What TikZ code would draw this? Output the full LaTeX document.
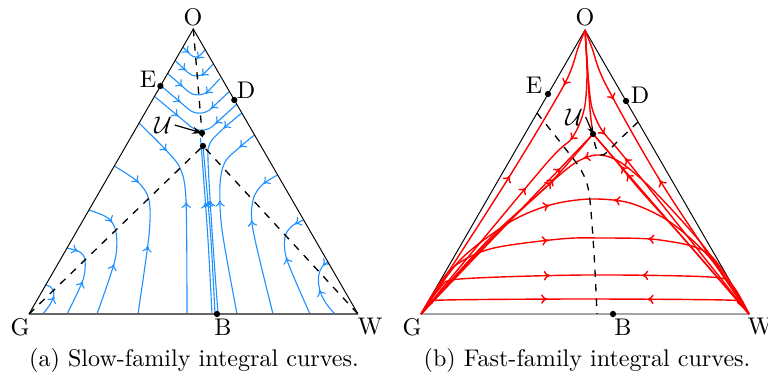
\documentclass[tikz,border=0pt]{standalone}
\usepackage{amsmath,amssymb}
\usetikzlibrary{positioning,calc,decorations.markings,arrows.meta}
\definecolor{slowblue}{RGB}{30,144,255}

\begin{document}
\begin{tikzpicture}[
    x=0.415pt, y=-0.415pt,
    edge/.style={black, line width=0.4pt},
    base/.style={black!60, line width=0.8pt},
    sep/.style={black, dashed, line width=0.55pt},
    dot/.style={circle, fill=black, inner sep=0pt, minimum size=2.6pt},
    lbl/.style={inner sep=1pt},
    % flow curves are drawn at full size, then shrunk
    flows/.style={x=1pt, y=-1pt, transform canvas={scale=0.415}},
    slow/.style={slowblue, line width=1.1pt},
    fast/.style={red, line width=1.4pt},
    fwd/.style={postaction={decorate}, decoration={markings, mark=at position #1 with {\arrow{To[length=6.2pt,width=9.5pt]}}}},
    bwd/.style={postaction={decorate}, decoration={markings, mark=at position #1 with {\arrow{To[reversed,length=6.2pt,width=9.5pt]}}}},
    conv/.style 2 args={postaction={decorate}, decoration={markings,
        mark=at position #1 with {\arrow{To[length=6.2pt,width=9.5pt]}},
        mark=at position #2 with {\arrow{To[reversed,length=6.2pt,width=9.5pt]}}}}
]
    \useasboundingbox (0,0) rectangle (768,381);

    % --- (a) slow family ---
    \coordinate (lG) at (29,314);
    \coordinate (lW) at (358,314);
    \coordinate (lO) at (193.3,29);
    \coordinate (lE) at (160.4,86);
    \coordinate (lD) at (234.3,100);
    \coordinate (lB) at (217,314);
    \coordinate (lU) at (202,133);
    \coordinate (lP) at (203,146);

    \begin{scope}[flows]
    % chevrons above U
    \draw[slow, rounded corners=7pt, conv={0.3}{0.78}] (182.8,47.1) -- (196,60) -- (205.2,49.6);
    \draw[slow, rounded corners=12pt, conv={0.3}{0.78}] (175.1,60.6) -- (197,81) -- (213.4,63.9);
    \draw[slow, rounded corners=15pt, conv={0.3}{0.78}] (167.7,73.5) -- (199,101) -- (219.9,78.7);
    \draw[slow, rounded corners=15pt, conv={0.3}{0.78}] (160.7,85.5) -- (200,119) -- (229.4,91.5);
    \draw[slow, rounded corners=15pt, conv={0.3}{0.78}] (154.5,96.4) -- (202,136) -- (236.7,104.2);

    % curves leaving the left side
    \draw[slow, bwd=0.6] (45.6,285) .. controls (53,286) and (56,292) .. (52,301) .. controls (49,307) and (45,311) .. (43,314);
    \draw[slow, conv={0.14}{0.63}] plot[smooth] coordinates {(66.9,248) (80,252) (85,260) (83,280) (67,314)};
    \draw[slow, conv={0.22}{0.62}] plot[smooth] coordinates {(88.9,210) (108,218) (116,232) (115,260) (97,314)};
    \draw[slow, conv={0.18}{0.62}] plot[smooth] coordinates {(114.3,166) (138,182) (149,200) (149,235) (138,314)};
    \draw[slow, conv={0.19}{0.49}] plot[smooth] coordinates {(139,123) (164,148) (180,168) (186,200) (187,314)};

    % central bundle
    \draw[slow, bwd=0.4] plot[smooth] coordinates {(200.5,138) (203,170) (208,240) (212,314)};
    \draw[slow, bwd=0.36] plot[smooth] coordinates {(203,147) (206,180) (211,240) (215,314)};
    \draw[slow, conv={0.11}{0.5}] plot[smooth] coordinates {(241.8,113) (224,128) (210,143) (208,160) (212,230) (218,314)};

    % curves leaving the right side
    \draw[slow, conv={0.1}{0.44}] plot[smooth] coordinates {(254.5,135) (240,147) (225,162) (220,185) (222,230) (237,314)};
    \draw[slow, conv={0.11}{0.41}] plot[smooth] coordinates {(277.5,175) (262,185) (253,200) (253,230) (273,314)};
    \draw[slow, conv={0.09}{0.49}] plot[smooth] coordinates {(303.5,220) (292,226) (285,237) (287,260) (310,314)};
    \draw[slow, conv={0.1}{0.62}] (327.7,262) .. controls (318,267) and (316,280) .. (321,294) .. controls (325,303) and (330,309) .. (335,314);
    \end{scope}

    % triangle and separatrices
    \draw[edge] (lG) -- (lO) -- (lW);
    \draw[base] (lG) -- (lW);
    \draw[sep] (lO) -- (lU) -- (lP);
    \draw[sep] (lG) -- (lP) -- (lW);
    \foreach \p in {lE,lD,lB,lU,lP} \node[dot] at (\p) {};

    \node[lbl] (lOt) at (193,17) {O};
    \node[lbl] (lEt) at (148,79) {E};
    \node[lbl] (lDt) at (246,90) {D};
    \node[lbl] (lGt) at (20,327) {G};
    \node[lbl] (lBt) at (223,327) {B};
    \node[lbl] (lWt) at (370,327) {W};
    \node[lbl] (lUt) at (163,125) {$\mathcal{U}$};
    \draw[-{Stealth[length=4pt,width=3pt]}, line width=0.5pt] (lUt.east) -- (lU);

    % --- (b) fast family ---
    \coordinate (rG) at (421,314);
    \coordinate (rW) at (749,314);
    \coordinate (rO) at (585,30);
    \coordinate (rE) at (548,94);
    \coordinate (rD) at (626,101);
    \coordinate (rB) at (613,314);
    \coordinate (rU) at (593,134);

    \draw[edge] (rG) -- (rO) -- (rW) -- cycle;

    \begin{scope}[flows]
    % from O
    \draw[fast] plot[smooth] coordinates {(585,30) (587,60) (590,110) (593,134)};
    \draw[fast, conv={0.18}{0.52}] plot[smooth] coordinates {(585,30) (578,48) (564,85) (506,182) (421,314)};
    \draw[fast, conv={0.33}{0.54}] plot[smooth] coordinates {(585,30) (587,75) (584,110) (572,138) (545,165) (421,314)};
    \draw[fast, conv={0.23}{0.53}] plot[smooth] coordinates {(585,30) (592,48) (606,85) (664,187) (749,314)};
    \draw[fast, conv={0.32}{0.43}] plot[smooth] coordinates {(585,30) (588,75) (592,108) (603,132) (625,158) (749,314)};

    % from G and W into U
    \draw[fast, fwd=0.81] (421,314) -- (593,134);
    \draw[fast, fwd=0.76] plot[smooth] coordinates {(421,314) (490,238) (547,186) (575,155) (593,134)};
    \draw[fast, fwd=0.82] (749,314) -- (593,134);
    \draw[fast, fwd=0.78] plot[smooth] coordinates {(749,314) (685,240) (640,190) (612,156) (593,134)};

    % from G to W
    \draw[fast, conv={0.40}{0.50}] plot[smooth] coordinates {(421,314) (490,240) (545,188) (575,163) (597,155) (620,162) (655,192) (705,248) (749,314)};
    \draw[fast, conv={0.41}{0.58}] plot[smooth] coordinates {(421,314) (460,260) (510,222) (550,205) (590,199) (630,203) (670,222) (710,258) (749,314)};
    \draw[fast, conv={0.40}{0.67}] plot[smooth] coordinates {(421,314) (450,270) (490,249) (560,239) (600,238) (660,240) (710,255) (749,314)};
    \draw[fast, conv={0.40}{0.67}] plot[smooth] coordinates {(421,314) (440,288) (460,279) (585,275) (710,277) (732,285) (749,314)};
    \draw[fast, conv={0.39}{0.70}] plot[smooth] coordinates {(421,314) (432,303) (445,300) (585,299) (725,300) (738,303) (749,314)};
    \end{scope}

    % inflection loci
    \draw[sep] plot[smooth] coordinates {(537,113) (564,147) (581,170) (589,193) (594,253) (597,314)};
    \draw[sep] plot[smooth] coordinates {(638,122) (618,141) (603,155) (596,148) (593,134)};

    \foreach \p in {rE,rD,rB,rU} \node[dot] at (\p) {};

    \node[lbl] (rOt) at (585,17) {O};
    \node[lbl] (rEt) at (534,85) {E};
    \node[lbl] (rDt) at (640,95) {D};
    \node[lbl] (rGt) at (412,327) {G};
    \node[lbl] (rBt) at (623,327) {B};
    \node[lbl] (rWt) at (760,327) {W};
    \node[lbl] (rUt) at (574,117) {$\mathcal{U}$};
    \draw[-{Stealth[length=3pt,width=2.5pt]}, line width=0.5pt] (rUt.east) -- (rU);

    % --- captions ---
    \node[anchor=base] (capa) at (194,366) {(a) Slow-family integral curves.};
    \node[anchor=base] (capb) at (587,366) {(b) Fast-family integral curves.};
\end{tikzpicture}
\end{document}
